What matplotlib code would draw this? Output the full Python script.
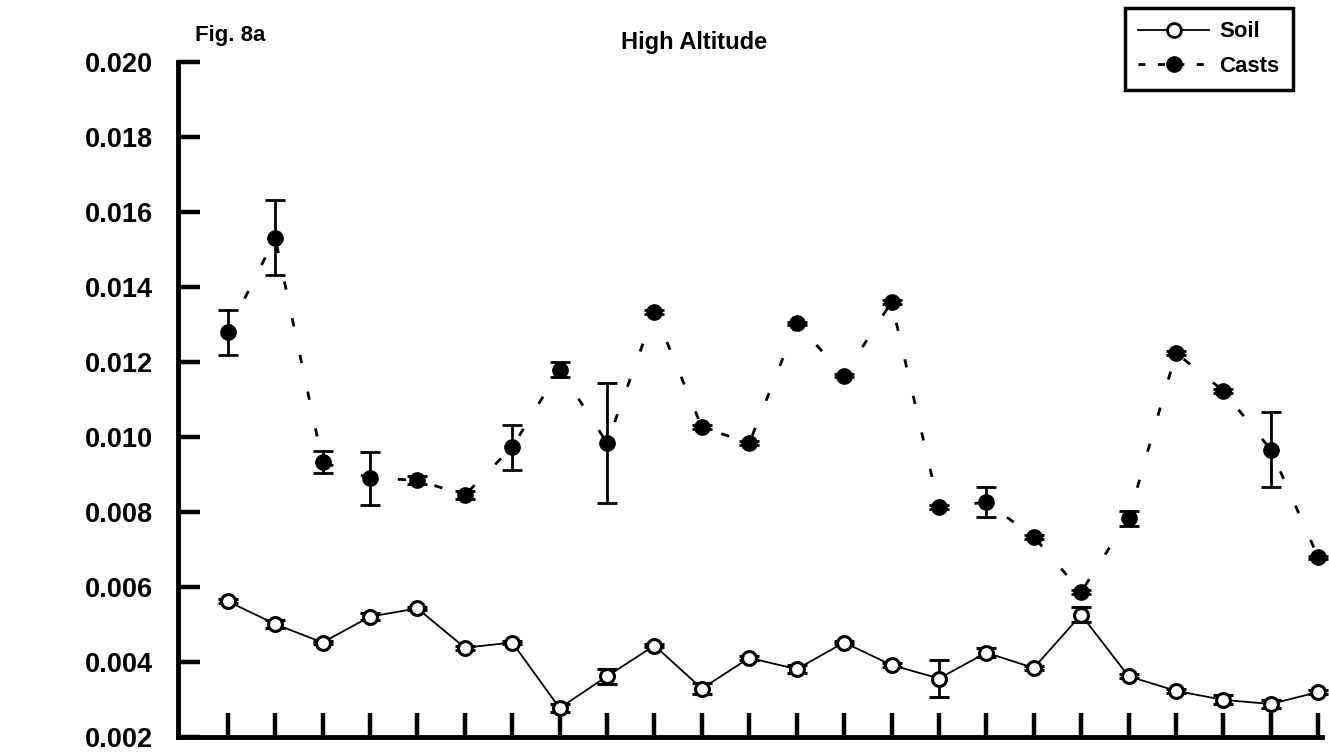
import matplotlib
matplotlib.use("Agg")
import matplotlib.pyplot as plt
from matplotlib.lines import Line2D
import numpy as np

plt.rcParams['font.family'] = ['Liberation Sans', 'DejaVu Sans']
plt.rcParams['lines.scale_dashes'] = False

# ---- data ----
samples = list(range(1, 25))
soil = [0.00562, 0.00501, 0.00452, 0.00521, 0.00543, 0.00438, 0.00452, 0.00277,
        0.00362, 0.00444, 0.00329, 0.00411, 0.00381, 0.00452, 0.00392, 0.00356,
        0.00425, 0.00384, 0.00526, 0.00362, 0.00323, 0.00299, 0.00288, 0.00320]
soil_err = [0.00005, 0.0001, 0.00005, 0.0001, 0.00005, 0.00005, 0.00005, 0.0001,
            0.0002, 0.00005, 0.00015, 0.00005, 0.0001, 0.00005, 0.00005, 0.0005,
            0.00012, 0.00005, 0.0002, 0.00005, 0.00005, 0.00012, 0.0001, 0.00005]
casts = [0.01280, 0.01531, 0.00933, 0.00890, 0.00885, 0.00845, 0.00973, 0.01180,
         0.00984, 0.01334, 0.01026, 0.00984, 0.01303, 0.01164, 0.01360, 0.00813,
         0.00826, 0.00734, 0.00587, 0.00784, 0.01224, 0.01123, 0.00966, 0.00679]
casts_err = [0.0006, 0.0010, 0.0003, 0.0007, 0.0001, 0.0001, 0.0006, 0.0002,
             0.0016, 0.00005, 0.00005, 0.00005, 0.00005, 0.00005, 0.00005, 0.00005,
             0.0004, 0.00005, 0.00005, 0.0002, 0.00005, 0.00005, 0.0010, 0.00005]
yticks = [0.002, 0.004, 0.006, 0.008, 0.010, 0.012, 0.014, 0.016, 0.018, 0.020]

fig = plt.figure(figsize=(13.29, 7.53), dpi=100)
ax = fig.add_axes([178/1329, 1-737/753, (1322-178)/1329, (737-62)/753])

c = ax.errorbar(samples, casts, yerr=casts_err, color='black', lw=2.0,
                dashes=(6, 21), marker='o', ms=11, mfc='black', mec='black',
                elinewidth=2.0, capsize=7, capthick=2.0, zorder=3)
s = ax.errorbar(samples, soil, yerr=soil_err, color='black', lw=1.3,
                linestyle='-', marker='o', ms=10, mfc='white', mec='black', mew=2.2,
                elinewidth=2.0, capsize=7, capthick=2.0, zorder=4)
for cont in (c, s):
    for art in cont.get_children():
        art.set_clip_on(False)

ax.set_xlim(-0.05, 24.08)
ax.set_ylim(0.002, 0.020)
ax.set_xticks(samples)
ax.set_xticklabels([])
ax.set_yticks(yticks)
ax.set_yticklabels([f"{v:.3f}" for v in yticks])
for sp in ['top', 'right']:
    ax.spines[sp].set_visible(False)
for sp in ['left', 'bottom']:
    ax.spines[sp].set_linewidth(3.5)
ax.tick_params(axis='y', direction='in', length=16, width=3.2, pad=18,
               labelsize=19.5)
ax.tick_params(axis='x', direction='in', length=17, width=3.2)
for lab in ax.get_yticklabels():
    lab.set_fontweight('bold')

fig.text(230/1329, 1-35/753, 'Fig. 8a', ha='center', va='center',
         fontsize=16, fontweight='bold')
fig.text(694/1329, 1-43/753, 'High Altitude', ha='center', va='center',
         fontsize=17, fontweight='bold')

h_soil = Line2D([], [], color='black', lw=1.3, linestyle='-', marker='o',
                ms=10, mfc='white', mec='black', mew=2.0)
h_casts = Line2D([], [], color='black', lw=2.0, dashes=(5, 9), marker='o',
                 ms=11, mfc='black', mec='black')
leg = fig.legend([h_soil, h_casts], ['Soil', 'Casts'],
                 loc='upper right', bbox_to_anchor=(1293/1329, 1-8/753),
                 bbox_transform=fig.transFigure, borderaxespad=0,
                 fancybox=False, framealpha=1, edgecolor='black',
                 prop={'size': 16, 'weight': 'bold'}, handlelength=3.2,
                 labelspacing=0.6, borderpad=0.6, handletextpad=0.45)
leg.get_frame().set_linewidth(2.5)

fig.savefig('out.png', dpi=100)
